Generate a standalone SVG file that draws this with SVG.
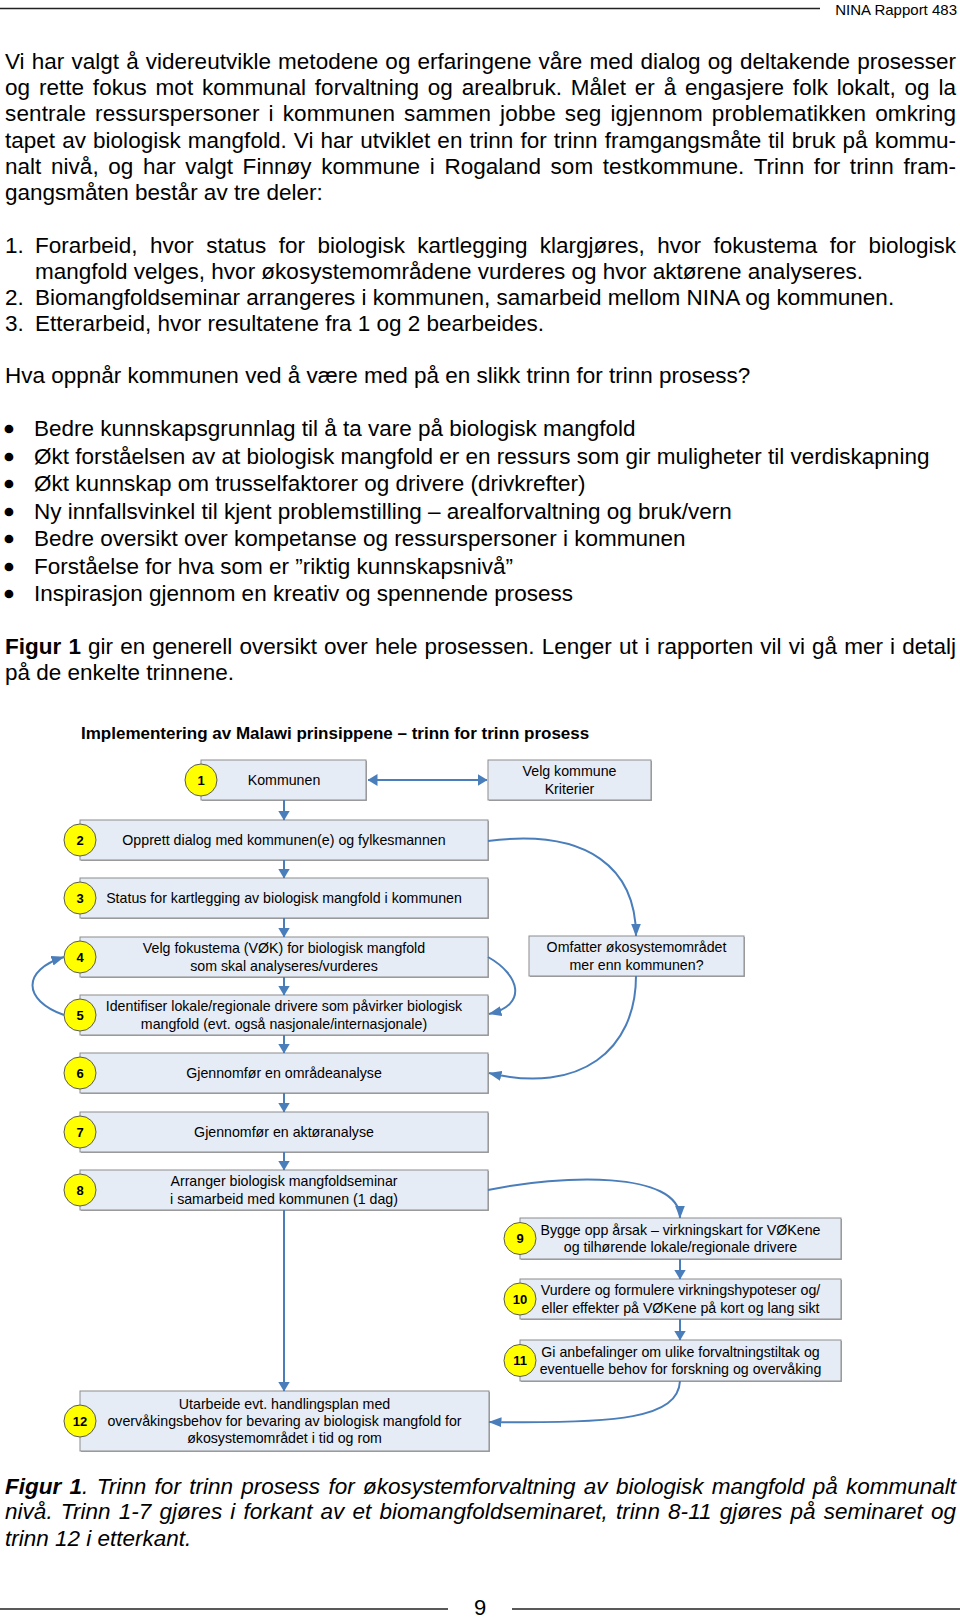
<svg xmlns="http://www.w3.org/2000/svg" width="960" height="1618" viewBox="0 0 960 1618">
<defs>
<style>
text{font-family:"Liberation Sans",Arial,Helvetica,sans-serif;fill:#000}
.p{font-size:22.5px}
.bul{font-size:22.5px;stroke:#000;stroke-width:2.6;stroke-linejoin:round}
.i{font-style:italic}
.box{fill:#E6ECF5;stroke:#8C8C8C;stroke-width:1}
.sh{fill:#A8A8A8}
.num{fill:#FFFF00;stroke:#5A5A5A;stroke-width:1}
.nt{font-size:13px;font-weight:bold;text-anchor:middle}
.bt{font-size:14.2px;text-anchor:middle}
.c{fill:none;stroke:#4A7EBB;stroke-width:2;marker-end:url(#ah)}
.cv{fill:none;stroke:#4A7EBB;stroke-width:2;marker-end:url(#ahc)}
.rule{stroke:#222;stroke-width:1.3}
</style>
<marker id="ah" viewBox="0 0 10 12" refX="9.5" refY="6" markerWidth="10" markerHeight="12" markerUnits="userSpaceOnUse" orient="auto-start-reverse"><path d="M0,0 L10,6 L0,12 z" fill="#4A7EBB"/></marker>
<marker id="ahc" viewBox="0 0 13 10" refX="12.5" refY="5" markerWidth="13" markerHeight="10" markerUnits="userSpaceOnUse" orient="auto"><path d="M0,0 L13,5 L0,10 z" fill="#4A7EBB"/></marker>
</defs>
<rect width="960" height="1618" fill="#fff"/>

<g id="header">
<line class="rule" x1="0" y1="8.5" x2="820" y2="8.5"/>
<text x="957" y="15" font-size="15" text-anchor="end">NINA Rapport 483</text>
</g>

<g id="body-text">
<text class="p" x="5" y="69" word-spacing="0.9" textLength="951" lengthAdjust="spacing">Vi har valgt å videreutvikle metodene og erfaringene våre med dialog og deltakende prosesser</text>
<text class="p" x="5" y="95.2" word-spacing="2.5" textLength="951" lengthAdjust="spacing">og rette fokus mot kommunal forvaltning og arealbruk. Målet er å engasjere folk lokalt, og la</text>
<text class="p" x="5" y="121.4" word-spacing="2.6" textLength="951" lengthAdjust="spacing">sentrale ressurspersoner i kommunen sammen jobbe seg igjennom problematikken omkring</text>
<text class="p" x="5" y="147.6" word-spacing="0.8" textLength="951" lengthAdjust="spacing">tapet av biologisk mangfold. Vi har utviklet en trinn for trinn framgangsmåte til bruk på kommu-</text>
<text class="p" x="5" y="173.8" word-spacing="3.4" textLength="951" lengthAdjust="spacing">nalt nivå, og har valgt Finnøy kommune i Rogaland som testkommune. Trinn for trinn fram-</text>
<text class="p" x="5" y="200">gangsmåten består av tre deler:</text>

<text class="p" x="5" y="252.7">1.</text>
<text class="p" x="35" y="252.7" word-spacing="6.2" textLength="921" lengthAdjust="spacing">Forarbeid, hvor status for biologisk kartlegging klargjøres, hvor fokustema for biologisk</text>
<text class="p" x="35" y="278.9">mangfold velges, hvor økosystemområdene vurderes og hvor aktørene analyseres.</text>
<text class="p" x="5" y="305.1">2.</text>
<text class="p" x="35" y="305.1">Biomangfoldseminar arrangeres i kommunen, samarbeid mellom NINA og kommunen.</text>
<text class="p" x="5" y="331.3">3.</text>
<text class="p" x="35" y="331.3">Etterarbeid, hvor resultatene fra 1 og 2 bearbeides.</text>

<text class="p" x="5" y="382.8">Hva oppnår kommunen ved å være med på en slikk trinn for trinn prosess?</text>

<text class="bul" x="5" y="436">•</text><text class="p" x="34" y="436.4">Bedre kunnskapsgrunnlag til å ta vare på biologisk mangfold</text>
<text class="bul" x="5" y="463.5">•</text><text class="p" x="34" y="463.9">Økt forståelsen av at biologisk mangfold er en ressurs som gir muligheter til verdiskapning</text>
<text class="bul" x="5" y="491">•</text><text class="p" x="34" y="491.4">Økt kunnskap om trusselfaktorer og drivere (drivkrefter)</text>
<text class="bul" x="5" y="518.5">•</text><text class="p" x="34" y="518.9">Ny innfallsvinkel til kjent problemstilling – arealforvaltning og bruk/vern</text>
<text class="bul" x="5" y="546">•</text><text class="p" x="34" y="546.4">Bedre oversikt over kompetanse og ressurspersoner i kommunen</text>
<text class="bul" x="5" y="573.5">•</text><text class="p" x="34" y="573.9">Forståelse for hva som er ”riktig kunnskapsnivå”</text>
<text class="bul" x="5" y="601">•</text><text class="p" x="34" y="601.4">Inspirasjon gjennom en kreativ og spennende prosess</text>

<text class="p" x="5" y="654.3" word-spacing="0.87" textLength="951" lengthAdjust="spacing"><tspan font-weight="bold">Figur 1</tspan> gir en generell oversikt over hele prosessen. Lenger ut i rapporten vil vi gå mer i detalj</text>
<text class="p" x="5" y="680.1">på de enkelte trinnene.</text>
</g>

<text id="figure-title" x="81" y="739" font-size="17" font-weight="bold">Implementering av Malawi prinsippene – trinn for trinn prosess</text>

<g id="nodes">
<g id="n1"><rect class="sh" x="202" y="761" width="165" height="40"/><rect class="box" x="201" y="760" width="165" height="40"/><circle class="num" cx="201" cy="780" r="16"/><text class="nt" x="201" y="784.6">1</text><text class="bt" x="284" y="785">Kommunen</text></g>
<g id="nvelg"><rect class="sh" x="489" y="761" width="163" height="40"/><rect class="box" x="488" y="760" width="163" height="40"/><text class="bt" x="569.5" y="776">Velg kommune</text><text class="bt" x="569.5" y="793.5">Kriterier</text></g>
<g id="n2"><rect class="sh" x="81" y="821" width="408" height="40"/><rect class="box" x="80" y="820" width="408" height="40"/><circle class="num" cx="80" cy="840" r="16"/><text class="nt" x="80" y="844.6">2</text><text class="bt" x="284" y="845">Opprett dialog med kommunen(e) og fylkesmannen</text></g>
<g id="n3"><rect class="sh" x="81" y="879" width="408" height="40"/><rect class="box" x="80" y="878" width="408" height="40"/><circle class="num" cx="80" cy="898" r="16"/><text class="nt" x="80" y="902.6">3</text><text class="bt" x="284" y="903">Status for kartlegging av biologisk mangfold i kommunen</text></g>
<g id="n4"><rect class="sh" x="81" y="938" width="408" height="40"/><rect class="box" x="80" y="937" width="408" height="40"/><circle class="num" cx="80" cy="957" r="16"/><text class="nt" x="80" y="961.6">4</text><text class="bt" x="284" y="953.3">Velg fokustema (VØK) for biologisk mangfold</text><text class="bt" x="284" y="970.7">som skal analyseres/vurderes</text></g>
<g id="n5"><rect class="sh" x="81" y="996" width="408" height="40"/><rect class="box" x="80" y="995" width="408" height="40"/><circle class="num" cx="80" cy="1015" r="16"/><text class="nt" x="80" y="1019.6">5</text><text class="bt" x="284" y="1011.3">Identifiser lokale/regionale drivere som påvirker biologisk</text><text class="bt" x="284" y="1028.7">mangfold (evt. også nasjonale/internasjonale)</text></g>
<g id="n6"><rect class="sh" x="81" y="1054" width="408" height="40"/><rect class="box" x="80" y="1053" width="408" height="40"/><circle class="num" cx="80" cy="1073" r="16"/><text class="nt" x="80" y="1077.6">6</text><text class="bt" x="284" y="1078">Gjennomfør en områdeanalyse</text></g>
<g id="n7"><rect class="sh" x="81" y="1113" width="408" height="40"/><rect class="box" x="80" y="1112" width="408" height="40"/><circle class="num" cx="80" cy="1132" r="16"/><text class="nt" x="80" y="1136.6">7</text><text class="bt" x="284" y="1137">Gjennomfør en aktøranalyse</text></g>
<g id="n8"><rect class="sh" x="81" y="1171" width="408" height="40"/><rect class="box" x="80" y="1170" width="408" height="40"/><circle class="num" cx="80" cy="1190" r="16"/><text class="nt" x="80" y="1194.6">8</text><text class="bt" x="284" y="1186.3">Arranger biologisk mangfoldseminar</text><text class="bt" x="284" y="1203.7">i samarbeid med kommunen (1 dag)</text></g>
<g id="nomf"><rect class="sh" x="530" y="937" width="215" height="40"/><rect class="box" x="529" y="936" width="215" height="40"/><text class="bt" x="636.5" y="952.3">Omfatter økosystemområdet</text><text class="bt" x="636.5" y="969.7">mer enn kommunen?</text></g>
<g id="n9"><rect class="sh" x="521" y="1219" width="321" height="41"/><rect class="box" x="520" y="1218" width="321" height="41"/><circle class="num" cx="520" cy="1238.5" r="16"/><text class="nt" x="520" y="1243.1">9</text><text class="bt" x="680.5" y="1234.8">Bygge opp årsak – virkningskart for VØKene</text><text class="bt" x="680.5" y="1252.2">og tilhørende lokale/regionale drivere</text></g>
<g id="n10"><rect class="sh" x="521" y="1280" width="321" height="40"/><rect class="box" x="520" y="1279" width="321" height="40"/><circle class="num" cx="520" cy="1299" r="16"/><text class="nt" x="520" y="1303.6">10</text><text class="bt" x="680.5" y="1295.3">Vurdere og formulere virkningshypoteser og/</text><text class="bt" x="680.5" y="1312.7">eller effekter på VØKene på kort og lang sikt</text></g>
<g id="n11"><rect class="sh" x="521" y="1341" width="321" height="41"/><rect class="box" x="520" y="1340" width="321" height="41"/><circle class="num" cx="520" cy="1360.5" r="16"/><text class="nt" x="520" y="1365.1">11</text><text class="bt" x="680.5" y="1356.8">Gi anbefalinger om ulike forvaltningstiltak og</text><text class="bt" x="680.5" y="1374.2">eventuelle behov for forskning og overvåking</text></g>
<g id="n12"><rect class="sh" x="81" y="1392" width="409" height="60"/><rect class="box" x="80" y="1391" width="409" height="60"/><circle class="num" cx="80" cy="1421" r="16"/><text class="nt" x="80" y="1425.6">12</text><text class="bt" x="284.5" y="1408.7">Utarbeide evt. handlingsplan med</text><text class="bt" x="284.5" y="1426">overvåkingsbehov for bevaring av biologisk mangfold for</text><text class="bt" x="284.5" y="1443.3">økosystemområdet i tid og rom</text></g>
</g>

<g id="connectors">
<path class="c" d="M368,780 L487,780" marker-start="url(#ah)"/>
<path class="c" d="M284,800 L284,820"/>
<path class="c" d="M284,860 L284,878"/>
<path class="c" d="M284,918 L284,937"/>
<path class="c" d="M284,977 L284,995"/>
<path class="c" d="M284,1035 L284,1053"/>
<path class="c" d="M284,1093 L284,1112"/>
<path class="c" d="M284,1152 L284,1170"/>
<path class="c" d="M284,1210 L284,1391"/>
<path class="c" d="M680,1259 L680,1279"/>
<path class="c" d="M680,1319 L680,1340"/>
<path class="cv" d="M488,841 C590,828 636,870 636,936"/>
<path class="cv" d="M636,976 C636,1050 580,1095 489,1073"/>
<path class="cv" d="M488,957 C520,975 528,1005 489,1014"/>
<path class="cv" d="M64,1015 C22,1000 22,970 64,957"/>
<path class="cv" d="M488,1190 C560,1175 680,1170 680,1218"/>
<path class="cv" d="M680,1381 C678,1418 620,1424 489,1422"/>
</g>

<g id="caption">
<text class="p i" x="5" y="1493.5" word-spacing="2.1" textLength="951" lengthAdjust="spacing"><tspan font-weight="bold">Figur 1</tspan>. Trinn for trinn prosess for økosystemforvaltning av biologisk mangfold på kommunalt</text>
<text class="p i" x="5" y="1519.3" word-spacing="1.8" textLength="951" lengthAdjust="spacing">nivå. Trinn 1-7 gjøres i forkant av et biomangfoldseminaret, trinn 8-11 gjøres på seminaret og</text>
<text class="p i" x="5" y="1546.2">trinn 12 i etterkant.</text>
</g>

<g id="footer">
<line class="rule" x1="0" y1="1609" x2="448" y2="1609"/>
<text x="480" y="1615" font-size="22" text-anchor="middle">9</text>
<line class="rule" x1="512" y1="1609" x2="960" y2="1609"/>
</g>
</svg>
